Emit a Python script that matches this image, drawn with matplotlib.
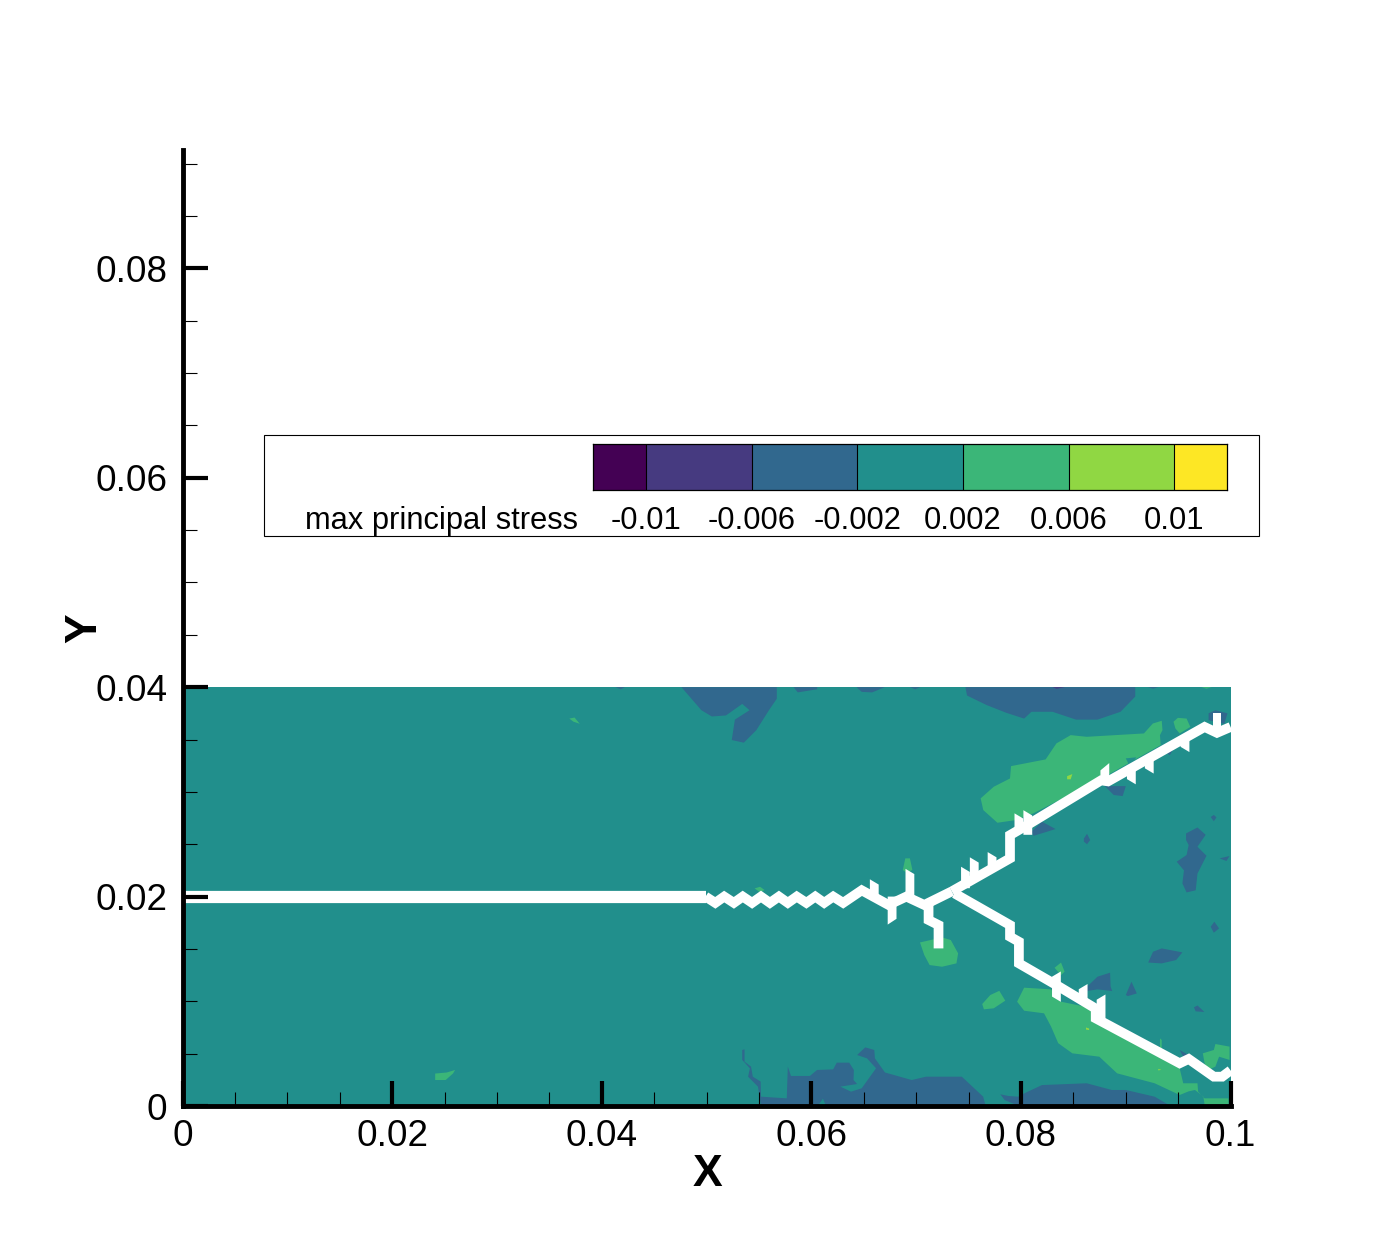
import numpy as np
import matplotlib
matplotlib.use("Agg")
import matplotlib.pyplot as plt
from matplotlib.patches import Rectangle
from matplotlib.colors import ListedColormap, BoundaryNorm

plt.rcParams['font.family'] = ['Liberation Sans', 'DejaVu Sans']

# ---- legend data
levels = [-0.012, -0.01, -0.006, -0.002, 0.002, 0.006, 0.01, 0.012]
level_colors = ['#440154', '#463a80', '#31688e', '#218f8c', '#3bb678', '#90d743', '#fde725']
level_ticks = [-0.01, -0.006, -0.002, 0.002, 0.006, 0.01]
level_labels = ['-0.01', '-0.006', '-0.002', '0.002', '0.006', '0.01']
legend_title = 'max principal stress'

# ---- contour bands, outlines in units of 1e-3
domain = [(0, 0), (100, 0), (100, 40), (0, 40)]

band_m002 = [
    [(47.6,40),(49.5,37.8),(50.5,37.2),(51.85,37.3),(53.4,38.4),(54.1,37.8),(52.7,36.9),(52.4,34.95),(53.55,34.7),(54.75,35.9),(55.95,37.8),(56.7,38.9),(56.7,40)],
    [(58.3,40),(58.7,39.5),(60.55,39.8),(60.55,40)],
    [(64.3,40),(64.8,39.55),(65.8,39.5),(67.0,40)],
    [(69.4,40),(69.9,39.8),(70.4,40)],
    [(41.3,40),(41.8,39.8),(42.2,40)],
    [(92.1,40),(92.6,39.85),(93.1,40)],
    [(74.7,40),(74.85,39.2),(76.7,38.3),(78.6,37.55),(80.3,37.0),(81.0,37.65),(83.0,37.65),(85.25,36.9),(87.3,36.9),(89.5,37.65),(90.9,39.1),(90.9,40)],
    [(97.9,37.5),(98.55,37.8),(99.7,37.5),(99.4,36.5),(97.9,36.85)],
    [(81,26.2),(82,27.15),(83.3,26.45),(81.2,25.8)],
    [(88,30.55),(90,30.55),(89.7,29.6),(88.85,29.7)],
    [(86.0,25.55),(86.3,26.0),(86.6,25.4),(86.3,25.0),(86.0,25.25)],
    [(98.1,27.6),(98.4,27.8),(98.65,27.56),(98.4,27.2)],
    [(95.75,26.03),(96.84,26.6),(97.62,25.9),(96.84,24.76),(97.7,23.9),(96.84,22.2),(96.67,20.6),(95.8,20.4),(95.4,21.26),(95.55,22.5),(94.86,23.33),(95.8,23.97),(96.0,24.92),(95.75,25.4)],
    [(98.95,23.65),(99.9,23.87),(99.6,23.4)],
    [(93.95,33.67),(94.5,34.05),(94.2,33.5)],
    [(86.1,11.2),(87.3,12.35),(88.5,12.73),(88.55,11.4),(88.7,10.98),(87.3,11.14),(86.3,10.98)],
    [(90.0,10.6),(90.54,11.87),(91.05,10.75),(90.2,10.5)],
    [(92.14,13.7),(92.6,14.73),(93.43,15.05),(95.4,14.67),(94.8,13.94),(93.43,13.62)],
    [(98.1,17.12),(98.45,17.6),(98.9,16.96),(98.4,16.55)],
    [(96.5,9.42),(96.84,9.6),(97.5,8.98),(96.67,9.04)],
    [(95.14,5.35),(96,4.87),(95.48,4.71)],
    [(53.4,5.35),(53.62,5.41),(53.62,4.24),(54.24,3.76),(54.41,2.8),(55.16,2.33),(55.19,0.89),(57.65,0.73),(57.75,3.76),(58.05,2.87),(59.86,2.87),(60.54,3.44),(62.08,3.5),(62.42,4.14),(63.61,4.14),(64.05,3.44),(64.02,2.48),(64.36,2.1),(62.76,1.85),(63.78,1.37),(64.8,1.69),(66.17,3.6),(65.31,4.55),(64.36,4.87),(65.14,5.6),(66.0,5.35),(66.06,4.55),(67.02,3.2),(69.57,2.48),(70.94,2.8),(74.35,2.8),(76.39,0.89),(76.63,0),(55.19,0),(54.9,1.85),(53.96,2.8),(54.13,3.6),(53.4,4.4)],
    [(78.03,1.12),(78.78,0.96),(79.73,0.89),(80.3,1.2),(82.0,2.0),(86.27,2.17),(88.66,1.53),(90.0,1.53),(92.75,0.89),(94.28,0),(79.8,0),(78.44,0.57)],
]
band_m006 = [
    [(83.0,40),(83.4,39.85),(84.2,40)],
]
band_p002 = [
    [(76.15,29.38),(77.4,30.49),(78.95,31.28),(79.05,32.46),(82.35,33.1),(83.38,34.63),(84.74,35.42),(86.27,35.26),(91.73,35.58),(92.58,36.53),(93.43,36.79),(93.5,35.9),(93.26,35.42),(93.33,34.47),(87.98,31.44),(81.16,27.94),(79.46,27.3),(77.75,27.05),(76.4,28.26)],
    [(94.55,36.7),(94.97,37.07),(95.8,37.0),(96.16,36.2),(95.14,35.58),(94.73,36.06)],
    [(68.72,22.53),(68.96,23.65),(69.4,23.65),(69.64,22.53),(69.06,22.3)],
    [(54.58,20.78),(55.1,20.94),(55.53,20.63),(55.1,20.4)],
    [(70.36,15.62),(72.47,16.1),(73.3,15.85),(74.0,14.58),(73.84,13.62),(72.47,13.3),(71.28,13.46),(70.77,14.42)],
    [(76.3,9.74),(77.07,10.6),(77.93,11.0),(78.5,10.06),(77.4,9.33),(76.46,9.23)],
    [(83.2,13.2),(83.82,13.7),(84.16,12.83),(83.82,12.5)],
    [(79.63,9.96),(80.3,11.3),(82.87,11.14),(83.82,9.96),(86.45,9.42),(87.13,8.37),(95.14,3.6),(95.48,2.17),(96.84,2.17),(96.9,1.37),(97.52,0.73),(99.8,0.73),(99.8,0.1),(97.52,0.1),(97.4,0.9),(96.6,1.53),(96.0,1.4),(95.14,1.05),(92.75,2.17),(89.17,3.12),(87.47,4.71),(84.9,5.03),(83.55,6.0),(82.87,7.58),(82.2,8.85),(80.3,9.1)],
    [(97.35,5.03),(98.4,5.35),(98.55,5.92),(99.9,5.67),(99.9,4.4),(98.9,4.71),(98.55,3.76),(97.86,3.44),(97.52,4.07)],
    [(93.26,6.46),(93.43,6.3),(93.43,5.3),(93.26,5.3)],
    [(24.1,2.48),(24.1,3.1),(25.2,3.2),(26.0,3.44),(25.8,3.1),(25.1,2.48)],
    [(36.9,37.0),(37.4,37.1),(37.9,36.5),(37.3,36.7)],
    [(97.2,40),(97.7,39.85),(98.2,40)],
]
band_p002_holes = [
    [(90,33.2),(91,33.3),(90.4,32.4)],
    [(60.6,0),(61.1,0.7),(61.4,0)],
]
band_p006 = [
    [(84.4,31.5),(84.9,31.7),(84.74,31.2),(84.4,31.2)],
    [(86.2,7.5),(86.5,7.4),(86.5,7.25),(86.2,7.3)],
    [(93.1,3.55),(93.4,3.45),(93.1,3.4)],
]

# ---- crack paths, units of 1e-3
crack_flat = [(0, 20), (49.9, 20)]
crack_main = [(49.9,20),(50.83,19.4),(51.68,20),(52.6,19.4),(53.45,20),(54.34,19.4),(55.19,20),(56.04,19.4),(56.9,20),(57.75,19.4),(58.6,20),(59.52,19.4),(60.37,20),(61.22,19.4),(62.08,20),(63.03,19.4),(64.8,20.6),(67.36,19.2),(69.06,20.0),(70.77,19.2),(73.4,20.5)]
crack_upper = [(73.4,20.5),(78.95,23.65),(78.95,25.87),(80.72,26.9),(87.64,31.1),(88.3,31.0),(97.52,36.2),(98.7,35.64),(100,36.2)]
crack_lower = [(73.66,20.3),(78.95,17.28),(78.95,16.17),(79.8,15.69),(79.8,13.62),(83.38,11.55),(87.13,9.3),(87.13,8.37),(95.14,4.08),(96,4.49),(98.4,2.8),(99.2,2.8),(100,3.4)]
crack_spur = [(71.18,19.35),(71.18,17.76),(72.13,17.28),(72.13,15.05)]
# branch stubs: x, upper end, lower end, end rise (right minus left) at each end
stub_x = [66.0, 69.4, 67.7, 74.7, 75.54, 77.24, 79.8, 80.65, 88.0, 90.53, 92.24, 95.65, 98.7, 83.38, 85.93, 87.64]
stub_top = [21.4, 22.4, 20.0, 22.6, 23.5, 24.0, 27.7, 28.0, 32.4, 32.2, 33.2, 35.13, 37.5, 12.6, 11.4, 10.4]
stub_bot = [20.0, 20.0, 17.6, 20.8, 21.9, 22.85, 26.35, 25.9, 30.8, 30.97, 32.0, 34.05, 35.7, 10.2, 10.1, 8.37]
stub_top_rise = [-0.5, -0.5, 0, -0.5, -0.5, -0.5, -0.5, -0.5, 0.7, 0, 0, 0, 0, 0.5, 0.5, 0.5]
stub_bot_rise = [0, 0, 0.55, 0, 0, 0, 0, 0, 0, -0.5, -0.5, -0.5, 0, -0.5, 0, 0]

x_major = [0, 0.02, 0.04, 0.06, 0.08, 0.1]
x_major_labels = ['0', '0.02', '0.04', '0.06', '0.08', '0.1']
y_major = [0, 0.02, 0.04, 0.06, 0.08]
y_major_labels = ['0', '0.02', '0.04', '0.06', '0.08']
x_minor = [0.005, 0.01, 0.015, 0.025, 0.03, 0.035, 0.045, 0.05, 0.055, 0.065, 0.07, 0.075, 0.085, 0.09, 0.095]
y_minor = [0.005, 0.01, 0.015, 0.025, 0.03, 0.035, 0.045, 0.05, 0.055, 0.065, 0.07, 0.075, 0.085, 0.09]
xlim = (0, 0.1)
ylim = (0, 0.0913)

W, H = 1400, 1245
fig = plt.figure(figsize=(W / 100, H / 100), dpi=100)
ax = fig.add_axes([182.6 / W, (H - 1106) / H, (1231 - 183) / W, (1106 - 150) / H])
ax.set_xlim(*xlim)
ax.set_ylim(*ylim)
ax.set_axisbelow(False)
ax.patch.set_visible(False)


def poly(p, color, z):
    a = np.array(p) * 1e-3
    ax.fill(a[:, 0], a[:, 1], color=color, lw=0, zorder=z)


def path(p, lw, z=2):
    a = np.array(p) * 1e-3
    ax.plot(a[:, 0], a[:, 1], color='white', lw=lw, solid_joinstyle='miter',
            solid_capstyle='butt', zorder=z)


poly(domain, level_colors[3], 0.5)
for p in band_m002:
    poly(p, level_colors[2], 0.6)
for p in band_m006:
    poly(p, level_colors[1], 0.7)
for p in band_p002:
    poly(p, level_colors[4], 0.6)
for p in band_p002_holes:
    poly(p, level_colors[3], 0.7)
for p in band_p006:
    poly(p, level_colors[5], 0.7)

path(crack_flat, 8.8)
for c in (crack_main, crack_upper, crack_lower, crack_spur):
    path(c, 7.0)
half = 0.42
for x, t, b, tr, br in zip(stub_x, stub_top, stub_bot, stub_top_rise, stub_bot_rise):
    poly([(x - half, t - tr / 2), (x + half, t + tr / 2), (x + half, b + br / 2), (x - half, b - br / 2)], 'white', 2)

for s in ('top', 'right'):
    ax.spines[s].set_visible(False)
for s in ('left', 'bottom'):
    ax.spines[s].set_linewidth(3.5)
    ax.spines[s].set_zorder(10)
    ax.spines[s].set_capstyle('projecting')

ax.set_xticks(x_major, x_major_labels)
ax.set_yticks(y_major, y_major_labels)
ax.set_xticks(x_minor, minor=True)
ax.set_yticks(y_minor, minor=True)
ax.tick_params(which='major', direction='in', length=18, width=3, labelsize=26.6)
ax.tick_params(which='minor', direction='in', length=10, width=0.8)
ax.tick_params(axis='x', which='major', pad=9.6)
ax.tick_params(axis='y', which='major', pad=11)

fig.text(707 / W, 1 - 1175 / H, 'X', fontsize=32, fontweight='bold', ha='center', va='center')
fig.text(85 / W, 1 - 628 / H, 'Y', fontsize=32, fontweight='bold', ha='center', va='center', rotation=90)

# legend
fig.add_artist(Rectangle((264 / W, 1 - 536 / H), (1259 - 264) / W, (536 - 435) / H,
                         transform=fig.transFigure, fill=False, ec='black', lw=0.8))
cax = fig.add_axes([593 / W, 1 - 490 / H, (1227 - 593) / W, (490 - 444) / H])
cmap = ListedColormap(level_colors)
norm = BoundaryNorm(levels, cmap.N)
cax.pcolormesh(levels, [0, 1], np.array([[(levels[i] + levels[i + 1]) / 2 for i in range(7)]]),
               cmap=cmap, norm=norm, edgecolors='none')
for v in levels[1:-1]:
    cax.axvline(v, color='black', lw=0.8)
cax.set_xlim(levels[0], levels[-1])
cax.set_yticks([])
cax.set_xticks(level_ticks, level_labels)
cax.tick_params(axis='x', length=0, labelsize=22.2, pad=11.6)
for s in cax.spines.values():
    s.set_linewidth(0.9)
fig.text(578 / W, 1 - 521 / H, legend_title, fontsize=22.2, ha='right', va='center')

fig.savefig('out.png', dpi=100)
